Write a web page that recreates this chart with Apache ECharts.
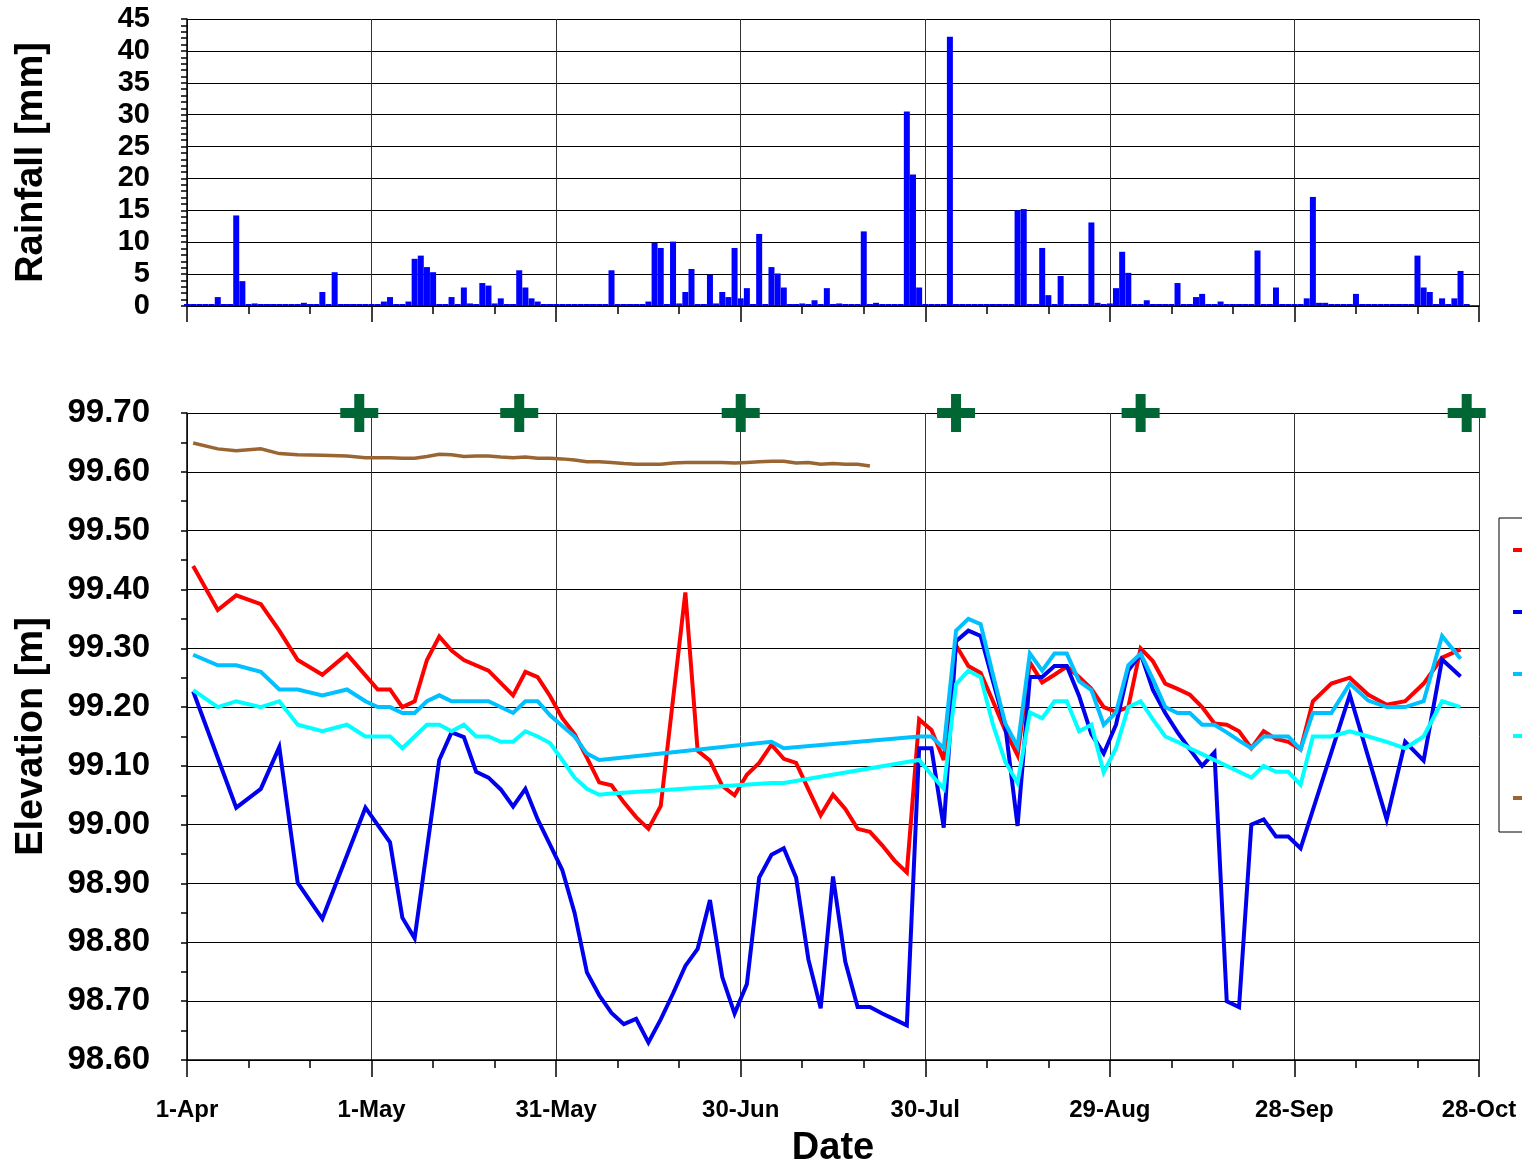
<!DOCTYPE html>
<html>
<head>
<meta charset="utf-8">
<script src="https://cdn.jsdelivr.net/npm/echarts@6/dist/echarts.min.js"></script>
<style>
html,body{margin:0;padding:0;background:#fff;}
#chart{width:1522px;height:1166px;}
</style>
</head>
<body>
<div id="chart"></div>
<script>
// x values are days counted from 1-Apr
const dateLabels = ['1-Apr','1-May','31-May','30-Jun','30-Jul','29-Aug','28-Sep','28-Oct'];
const rainTicks = [0,5,10,15,20,25,30,35,40,45];
const elevTicks = ['98.60','98.70','98.80','98.90','99.00','99.10','99.20','99.30','99.40','99.50','99.60','99.70'];

// daily rainfall [mm], day 0 = 1-Apr
const rainfall = [
  0,0,0,0,0,1.4,0,0.2,14.2,3.9,
  0,0.4,0.2,0,0,0,0,0,0,0.5,
  0,0,2.2,0.2,5.3,0,0.2,0,0,0,
  0,0,0.7,1.4,0,0.2,0.7,7.4,7.9,6.1,
  5.3,0.2,0,1.4,0,2.9,0.4,0,3.6,3.2,
  0.4,1.2,0.2,0.2,5.6,2.9,1.2,0.7,0,0,
  0,0,0,0,0,0,0,0,0,5.6,
  0,0.2,0.2,0.2,0,0.7,9.9,9.1,0,10.1,
  0.4,2.2,5.8,0,0,4.9,0.4,2.2,1.4,9.1,
  1.2,2.8,0,11.3,0.2,6.1,5.1,2.9,0,0,
  0.4,0.2,0.9,0,2.8,0.2,0.4,0,0,0,
  11.7,0.2,0.5,0.2,0,0,0,30.5,20.6,2.9,
  0,0.2,0,0,42.2,0.2,0,0,0,0,
  0.2,0,0,0,0,15.0,15.2,0,0,9.1,
  1.7,0,4.7,0,0,0,0,13.1,0.5,0.2,
  0.4,2.8,8.5,5.2,0.2,0,0.9,0,0,0.2,
  0,3.6,0,0,1.4,1.9,0,0,0.7,0,
  0.2,0,0,0.2,8.7,0,0,2.9,0,0.2,
  0.2,0,1.2,17.1,0.5,0.5,0.2,0,0,0.2,
  1.9,0,0,0.2,0.2,0,0,0,0,0,
  7.9,2.9,2.2,0,1.2,0.2,1.2,5.5,0
];

const seriesNames = ['P-1','P-2','P-3','P-4','P-5'];

const redLevels = [[1,99.44],[5,99.365],[8,99.39],[12,99.375],[15,99.33],[18,99.28],[22,99.255],[26,99.29],[31,99.23],[33,99.23],[35,99.20],[37,99.21],[39,99.28],[41,99.32],[43,99.296],[45,99.28],[49,99.262],[53,99.22],[55,99.26],[57,99.251],[59,99.219],[61,99.181],[63,99.154],[65,99.114],[67,99.072],[69,99.067],[71,99.038],[73,99.013],[75,98.993],[77,99.032],[81,99.395],[83,99.126],[85,99.109],[87,99.066],[89,99.05],[91,99.085],[93,99.105],[95,99.136],[97,99.112],[99,99.105],[101,99.06],[103,99.016],[105,99.051],[107,99.027],[109,98.993],[111,98.988],[113,98.965],[115,98.939],[117,98.919],[119,99.179],[121,99.161],[123,99.11],[125,99.305],[127,99.27],[129,99.258],[131,99.21],[133,99.16],[135,99.118],[137,99.276],[139,99.242],[141,99.255],[143,99.269],[145,99.251],[147,99.231],[149,99.20],[151,99.192],[153,99.20],[155,99.30],[157,99.278],[159,99.24],[161,99.231],[163,99.221],[165,99.20],[167,99.172],[169,99.17],[171,99.159],[173,99.13],[175,99.159],[177,99.146],[179,99.141],[181,99.128],[183,99.21],[186,99.24],[189,99.25],[192,99.221],[195,99.204],[198,99.21],[201,99.24],[204,99.284],[207,99.298]];

const blueLevels = [[1,99.227],[8,99.029],[12,99.061],[15,99.132],[18,98.901],[22,98.84],[29,99.029],[33,98.97],[35,98.842],[37,98.807],[41,99.11],[43,99.157],[45,99.149],[47,99.09],[49,99.08],[51,99.06],[53,99.031],[55,99.061],[57,99.009],[59,98.966],[61,98.923],[63,98.85],[65,98.749],[67,98.71],[69,98.68],[71,98.661],[73,98.67],[75,98.63],[77,98.669],[79,98.713],[81,98.76],[83,98.789],[85,98.872],[87,98.741],[89,98.679],[91,98.729],[93,98.91],[95,98.949],[97,98.96],[99,98.91],[101,98.771],[103,98.688],[105,98.912],[107,98.767],[109,98.69],[111,98.69],[113,98.679],[115,98.669],[117,98.659],[119,99.13],[121,99.13],[123,98.995],[125,99.312],[127,99.33],[129,99.321],[131,99.244],[133,99.168],[135,98.998],[137,99.251],[139,99.251],[141,99.27],[143,99.27],[145,99.219],[147,99.154],[149,99.121],[151,99.17],[153,99.262],[155,99.291],[157,99.229],[159,99.19],[161,99.157],[163,99.128],[165,99.10],[167,99.123],[169,98.70],[171,98.69],[173,99.0],[175,99.009],[177,98.98],[179,98.98],[181,98.96],[189,99.221],[195,99.009],[198,99.141],[201,99.109],[204,99.281],[207,99.252]];

const skyLevels = [[1,99.289],[5,99.271],[8,99.271],[12,99.26],[15,99.23],[18,99.23],[22,99.22],[26,99.23],[29,99.21],[31,99.20],[33,99.20],[35,99.19],[37,99.19],[39,99.21],[41,99.22],[43,99.21],[45,99.21],[49,99.21],[53,99.19],[55,99.21],[57,99.21],[59,99.186],[61,99.168],[63,99.15],[65,99.121],[67,99.11],[69,99.112],[95,99.141],[97,99.13],[119,99.15],[121,99.15],[123,99.13],[125,99.33],[127,99.35],[129,99.341],[131,99.255],[133,99.172],[135,99.133],[137,99.291],[139,99.262],[141,99.291],[143,99.291],[145,99.244],[147,99.229],[149,99.17],[151,99.191],[153,99.271],[155,99.291],[157,99.247],[159,99.20],[161,99.19],[163,99.19],[165,99.17],[167,99.17],[169,99.157],[171,99.143],[173,99.13],[175,99.15],[177,99.15],[179,99.15],[181,99.128],[183,99.19],[186,99.19],[189,99.24],[192,99.211],[195,99.20],[198,99.20],[201,99.21],[204,99.321],[207,99.282]];

const cyanLevels = [[1,99.229],[5,99.20],[8,99.21],[12,99.20],[15,99.21],[18,99.17],[22,99.159],[26,99.17],[29,99.15],[33,99.15],[35,99.13],[37,99.15],[39,99.17],[41,99.17],[43,99.159],[45,99.17],[47,99.15],[49,99.15],[51,99.141],[53,99.141],[55,99.159],[57,99.15],[59,99.139],[61,99.11],[63,99.08],[65,99.061],[67,99.051],[69,99.053],[95,99.071],[97,99.071],[119,99.11],[121,99.085],[123,99.061],[125,99.239],[127,99.262],[129,99.251],[131,99.17],[133,99.107],[135,99.071],[137,99.191],[139,99.181],[141,99.21],[143,99.21],[145,99.159],[147,99.17],[149,99.089],[151,99.13],[153,99.20],[155,99.21],[157,99.179],[159,99.15],[161,99.141],[163,99.13],[165,99.12],[167,99.11],[169,99.10],[171,99.09],[173,99.08],[175,99.10],[177,99.09],[179,99.09],[181,99.068],[183,99.15],[186,99.15],[189,99.159],[192,99.15],[195,99.141],[198,99.13],[201,99.15],[204,99.21],[207,99.20]];

const brownLevels = [[1,99.649],[5,99.639],[8,99.636],[12,99.639],[15,99.631],[18,99.629],[22,99.628],[26,99.627],[29,99.624],[31,99.624],[33,99.624],[35,99.623],[37,99.623],[39,99.626],[41,99.63],[43,99.629],[45,99.626],[47,99.627],[49,99.627],[51,99.625],[53,99.624],[55,99.625],[57,99.623],[59,99.623],[61,99.622],[63,99.62],[65,99.617],[67,99.617],[69,99.616],[71,99.614],[73,99.613],[75,99.613],[77,99.613],[79,99.615],[81,99.616],[83,99.616],[85,99.616],[87,99.616],[89,99.615],[91,99.616],[93,99.617],[95,99.618],[97,99.618],[99,99.615],[101,99.616],[103,99.613],[105,99.614],[107,99.613],[109,99.613],[111,99.61]];

const surveyDays = [28,54,90,125,155,208];
const surveyLevel = 99.70;

const FONT = "'Liberation Sans', Arial, sans-serif";
const gridColor = '#333';

const chart = echarts.init(document.getElementById('chart'), null, {renderer:'canvas'});

function lineSeries(name, data, color, width) {
  return {
    name: name, type: 'line', xAxisIndex: 1, yAxisIndex: 1,
    data: data, showSymbol: false, symbol: 'none', animation: false,
    lineStyle: {color: color, width: width, join: 'miter', miterLimit: 4},
    itemStyle: {color: color}
  };
}

const option = {
  animation: false,
  backgroundColor: '#fff',
  textStyle: {fontFamily: FONT},
  grid: [
    {left: 187, right: 43, top: 19, height: 287, outerBoundsMode: 'none', containLabel: false},
    {left: 187, right: 43, top: 413, height: 647, outerBoundsMode: 'none', containLabel: false}
  ],
  xAxis: [
    {
      type: 'value', gridIndex: 0, min: 0, max: 210, interval: 30,
      axisLine: {show: true, onZero: false, lineStyle: {color: '#000', width: 1.5}},
      axisTick: {show: true, length: 16, lineStyle: {color: '#000', width: 1.5}},
      minorTick: {show: true, splitNumber: 3, length: 8, lineStyle: {color: '#000', width: 1.5}},
      axisLabel: {show: false},
      splitLine: {show: true, lineStyle: {color: gridColor, width: 1}}
    },
    {
      type: 'value', gridIndex: 1, min: 0, max: 210, interval: 30,
      axisLine: {show: true, onZero: false, lineStyle: {color: '#000', width: 1.5}},
      axisTick: {show: true, length: 17, lineStyle: {color: '#000', width: 1.5}},
      minorTick: {show: true, splitNumber: 3, length: 8, lineStyle: {color: '#000', width: 1.5}},
      axisLabel: {
        show: true, margin: 38, color: '#000', fontWeight: 'bold', fontSize: 24, fontFamily: FONT,
        formatter: function (v) { return dateLabels[Math.round(v / 30)] || ''; }
      },
      splitLine: {show: true, lineStyle: {color: gridColor, width: 1}},
      name: 'Date', nameLocation: 'middle', nameGap: 70,
      nameTextStyle: {color: '#000', fontWeight: 'bold', fontSize: 38, fontFamily: FONT}
    }
  ],
  yAxis: [
    {
      type: 'value', gridIndex: 0, min: 0, max: 45, interval: 5,
      axisLine: {show: true, lineStyle: {color: '#000', width: 1.5}},
      axisTick: {show: true, length: 6, lineStyle: {color: '#000', width: 1.5}},
      minorTick: {show: true, splitNumber: 5, length: 6, lineStyle: {color: '#000', width: 1.5}},
      axisLabel: {
        margin: 37, color: '#000', fontWeight: 'bold', fontSize: 29, fontFamily: FONT,
        formatter: function (v) { return rainTicks.indexOf(Math.round(v)) >= 0 ? String(Math.round(v)) : ''; }
      },
      splitLine: {show: true, lineStyle: {color: '#000', width: 1}},
      name: 'Rainfall [mm]', nameLocation: 'middle', nameGap: 136,
      nameTextStyle: {color: '#000', fontWeight: 'bold', fontSize: 38, fontFamily: FONT}
    },
    {
      type: 'value', gridIndex: 1, min: 98.6, max: 99.7, interval: 0.1,
      axisLine: {show: true, lineStyle: {color: '#000', width: 1.5}},
      axisTick: {show: true, length: 6, lineStyle: {color: '#000', width: 1.5}},
      minorTick: {show: true, splitNumber: 2, length: 6, lineStyle: {color: '#000', width: 1.5}},
      axisLabel: {
        margin: 37, color: '#000', fontWeight: 'bold', fontSize: 33, fontFamily: FONT,
        formatter: function (v) {
          const s = v.toFixed(2);
          return elevTicks.indexOf(s) >= 0 ? s : '';
        }
      },
      splitLine: {show: true, lineStyle: {color: '#000', width: 1}},
      name: 'Elevation [m]', nameLocation: 'middle', nameGap: 136,
      nameTextStyle: {color: '#000', fontWeight: 'bold', fontSize: 38, fontFamily: FONT}
    }
  ],
  legend: {
    show: true, orient: 'vertical', left: 1499, top: 518,
    data: seriesNames,
    icon: 'rect', itemWidth: 40, itemHeight: 4, itemGap: 42,
    padding: [22, 12, 24, 14],
    borderColor: '#000', borderWidth: 1, backgroundColor: '#fff',
    textStyle: {fontSize: 20, lineHeight: 20, color: '#000', fontFamily: FONT, fontWeight: 'bold'},
    selectedMode: false
  },
  series: [
    {
      name: 'Rainfall', type: 'bar', xAxisIndex: 0, yAxisIndex: 0,
      data: rainfall.map(function (v, i) { return [i, v]; }),
      barWidth: 6, barMinHeight: 2,
      itemStyle: {color: '#0000ff'}
    },
    lineSeries(seriesNames[0], redLevels, '#ff0000', 4),
    lineSeries(seriesNames[1], blueLevels, '#0000ee', 4),
    lineSeries(seriesNames[2], skyLevels, '#00c0ff', 4),
    lineSeries(seriesNames[3], cyanLevels, '#00ffff', 4),
    lineSeries(seriesNames[4], brownLevels, '#996633', 3.5),
    {
      name: 'Survey', type: 'scatter', xAxisIndex: 1, yAxisIndex: 1,
      data: surveyDays.map(function (d) { return [d, surveyLevel]; }),
      symbol: 'path://M14,0H24V14H38V24H24V38H14V24H0V14H14Z',
      symbolSize: 38, clip: false, z: 10,
      itemStyle: {color: '#006633', opacity: 1}
    }
  ]
};
chart.setOption(option);
</script>
</body>
</html>
